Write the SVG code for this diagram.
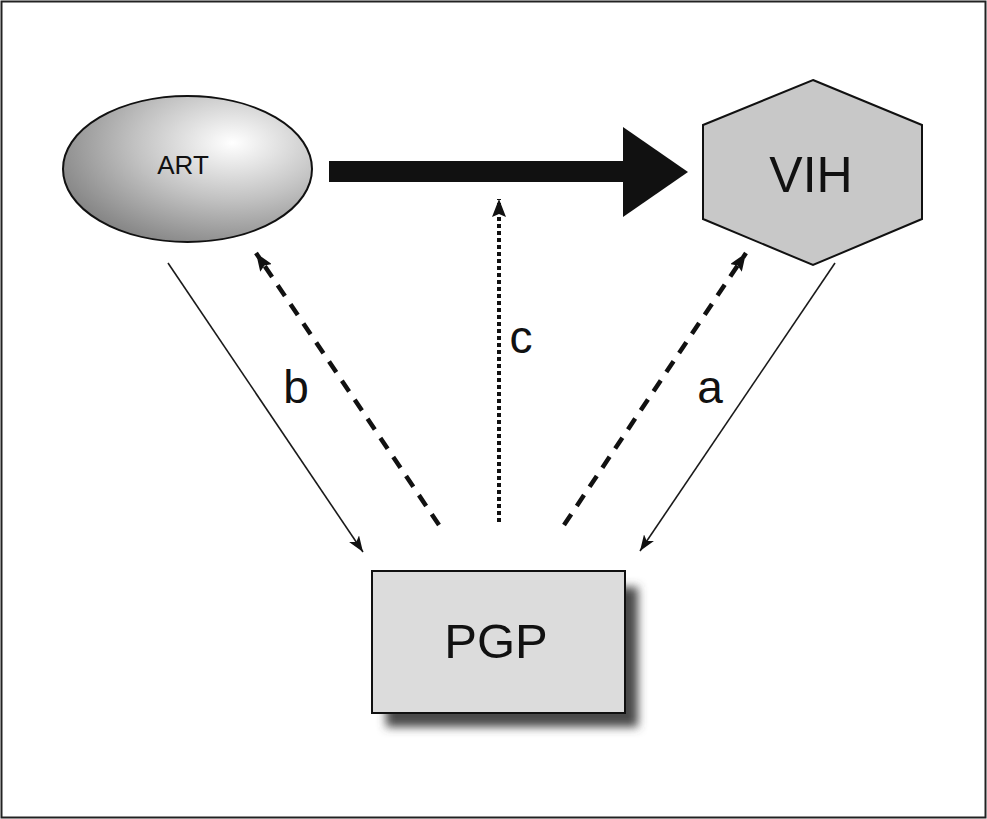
<svg xmlns="http://www.w3.org/2000/svg" width="987" height="819" viewBox="0 0 987 819">
<style>
text{font-family:"Liberation Sans",Arial,Helvetica,sans-serif;fill:#111;text-anchor:middle}
.thin{stroke:#1a1a1a;stroke-width:1.6;fill:none}
.dash{stroke:#111;stroke-width:4.5;stroke-dasharray:13 10;fill:none}
.dot{stroke:#111;stroke-width:4;stroke-dasharray:4 3;fill:none}
.lbl{font-size:46px}
</style>
<defs>
<radialGradient id="artGrad" cx="0.68" cy="0.32" r="0.78" fx="0.68" fy="0.32">
<stop offset="0" stop-color="#ffffff"/>
<stop offset="0.5" stop-color="#c2c2c2"/>
<stop offset="1" stop-color="#808080"/>
</radialGradient>
<filter id="shadow" x="-15%" y="-15%" width="140%" height="150%">
<feGaussianBlur stdDeviation="5"/>
</filter>
<marker id="ah" viewBox="0 0 16 12" refX="16" refY="6" markerWidth="16" markerHeight="12" markerUnits="userSpaceOnUse" orient="auto">
<path d="M0,0 L16,6 L0,12 L4,6 Z" fill="#111"/>
</marker>
<marker id="ahd" viewBox="0 0 18 14" refX="18" refY="7" markerWidth="18" markerHeight="14" markerUnits="userSpaceOnUse" orient="auto">
<path d="M0,0 L18,7 L0,14 L3,7 Z" fill="#111"/>
</marker>
</defs>
<rect x="1.5" y="1.5" width="984" height="816" fill="#fff" stroke="#222" stroke-width="2"/>
<g id="connectors">
<g id="main-arrow">
<rect x="329" y="161" width="296" height="21" fill="#111"/>
<polygon points="623,127 688,172 623,217" fill="#111"/>
</g>
<line class="thin" x1="168" y1="263" x2="363" y2="552" marker-end="url(#ah)"/>
<line class="dash" x1="439" y1="525" x2="256" y2="253" marker-end="url(#ahd)"/>
<line class="dot" x1="499" y1="522" x2="499" y2="199" marker-end="url(#ahd)"/>
<line class="dash" x1="564" y1="525" x2="746" y2="253" marker-end="url(#ahd)"/>
<line class="thin" x1="835" y1="263" x2="640" y2="551" marker-end="url(#ah)"/>
<text class="lbl" x="296" y="403">b</text>
<text class="lbl" x="521" y="353">c</text>
<text class="lbl" x="710" y="403">a</text>
</g>
<g id="ART">
<ellipse cx="187.5" cy="169" rx="124.5" ry="73" fill="url(#artGrad)" stroke="#111" stroke-width="2"/>
<text x="183" y="174" font-size="26">ART</text>
</g>
<g id="VIH">
<polygon points="813,80 922,125 922,219 813,265 703,219 703,125" fill="#c8c8c8" stroke="#111" stroke-width="2"/>
<text x="811" y="192" font-size="50">VIH</text>
</g>
<g id="PGP">
<rect x="386" y="587" width="252" height="140" fill="#4a4a4a" filter="url(#shadow)"/>
<rect x="372" y="571" width="253" height="142" fill="#dcdcdc" stroke="#111" stroke-width="2"/>
<text x="496" y="658" font-size="49">PGP</text>
</g>
</svg>
